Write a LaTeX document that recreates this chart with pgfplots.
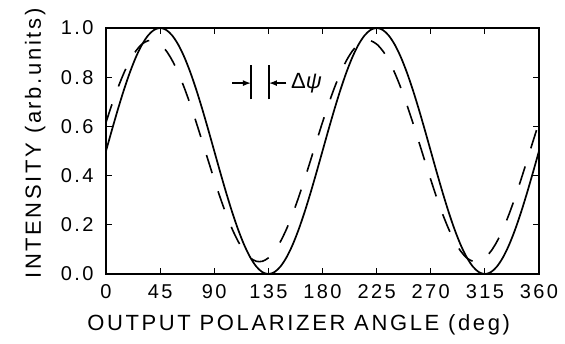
\documentclass[border=0pt]{standalone}
\usepackage{fontspec}
\setmainfont{Liberation Sans}[LetterSpace=12]
\newfontfamily\greekfont{Liberation Sans}
\usepackage{pgfplots}
\pgfplotsset{compat=1.18}
\usepackage{pgfplotstable}
\usetikzlibrary{arrows.meta}
\pgfplotstableread{
x y
0 0.5
5 0.5868
10 0.6710
15 0.75
20 0.8214
25 0.8830
30 0.9330
35 0.9698
40 0.9924
45 1.0
50 0.9924
55 0.9698
60 0.9330
65 0.8830
70 0.8214
75 0.75
80 0.6710
85 0.5868
90 0.5
95 0.4132
100 0.3290
105 0.25
110 0.1786
115 0.1170
120 0.0670
125 0.0302
130 0.0076
135 0.0
140 0.0076
145 0.0302
150 0.0670
155 0.1170
160 0.1786
165 0.25
170 0.3290
175 0.4132
180 0.5
185 0.5868
190 0.6710
195 0.75
200 0.8214
205 0.8830
210 0.9330
215 0.9698
220 0.9924
225 1.0
230 0.9924
235 0.9698
240 0.9330
245 0.8830
250 0.8214
255 0.75
260 0.6710
265 0.5868
270 0.5
275 0.4132
280 0.3290
285 0.25
290 0.1786
295 0.1170
300 0.0670
305 0.0302
310 0.0076
315 0.0
320 0.0076
325 0.0302
330 0.0670
335 0.1170
340 0.1786
345 0.25
350 0.3290
355 0.4132
360 0.5
}\solid
\pgfplotstableread{
x y
0 0.6165
5 0.6902
10 0.7581
15 0.8182
20 0.8686
25 0.9078
30 0.9347
35 0.9483
40 0.9483
45 0.9347
50 0.9078
55 0.8686
60 0.8182
65 0.7581
70 0.6902
75 0.6165
80 0.5392
85 0.4608
90 0.3835
95 0.3098
100 0.2419
105 0.1818
110 0.1314
115 0.0922
120 0.0653
125 0.0517
130 0.0517
135 0.0653
140 0.0922
145 0.1314
150 0.1818
155 0.2419
160 0.3098
165 0.3835
170 0.4608
175 0.5392
180 0.6165
185 0.6902
190 0.7581
195 0.8182
200 0.8686
205 0.9078
210 0.9347
215 0.9483
220 0.9483
225 0.9347
230 0.9078
235 0.8686
240 0.8182
245 0.7581
250 0.6902
255 0.6165
260 0.5392
265 0.4608
270 0.3835
275 0.3098
280 0.2419
285 0.1818
290 0.1314
295 0.0922
300 0.0653
305 0.0517
310 0.0517
315 0.0653
320 0.0922
325 0.1314
330 0.1818
335 0.2419
340 0.3098
345 0.3835
350 0.4608
355 0.5392
360 0.6165
}\dashed
\begin{document}
\begin{tikzpicture}
\begin{axis}[
  name=ax,
  scale only axis,
  width=433pt, height=246pt,
  xmin=0, xmax=360, ymin=0, ymax=1,
  xtick={0,45,...,360},
  ytick={0,0.2,...,1.0},
  yticklabel style={/pgf/number format/fixed, /pgf/number format/fixed zerofill, /pgf/number format/precision=1},
  /pgf/number format/assume math mode=true,
  tick align=inside,
  major tick length=6pt,
  tick style={black, line width=1pt},
  axis line style={line width=1.2pt},
  ticklabel style={font=\fontsize{20}{22}\selectfont},
  xticklabel style={yshift=-7pt},
  yticklabel style={xshift=-9pt},
  label style={font=\fontsize{22}{24}\selectfont},
  xlabel={OUTPUT POLARIZER ANGLE (deg)},
  ylabel={INTENSITY (arb.units)},
  xlabel style={at={(axis description cs:0.445,0)}, anchor=north, yshift=-37pt},
  ylabel style={at={(axis description cs:0,0.53)}, anchor=south, yshift=57pt},
  clip=true,
]
\addplot[black, line width=1.7pt, smooth] table[x=x,y=y] {\solid};
\addplot[black, line width=1.6pt, smooth, dash pattern=on 19pt off 19pt] table[x=x,y=y] {\dashed};
\draw[line width=1.5pt] (axis cs:120.5,0.71) -- (axis cs:120.5,0.85);
\draw[line width=1.5pt] (axis cs:135.5,0.71) -- (axis cs:135.5,0.85);
\draw[line width=1.4pt, -{Latex[length=8pt,width=6pt]}] (axis cs:105,0.776) -- (axis cs:120.5,0.776);
\draw[line width=1.4pt, -{Latex[length=8pt,width=6pt]}] (axis cs:150,0.776) -- (axis cs:135.5,0.776);
\node[anchor=west, font=\fontsize{22}{24}\selectfont] at (axis cs:151,0.776) {\greekfont Δ\textit{ψ}};
\end{axis}
\pgfresetboundingbox
\path (ax.south west) ++(-106pt,-69pt) rectangle ++(565pt,343pt);
\end{tikzpicture}
\end{document}
